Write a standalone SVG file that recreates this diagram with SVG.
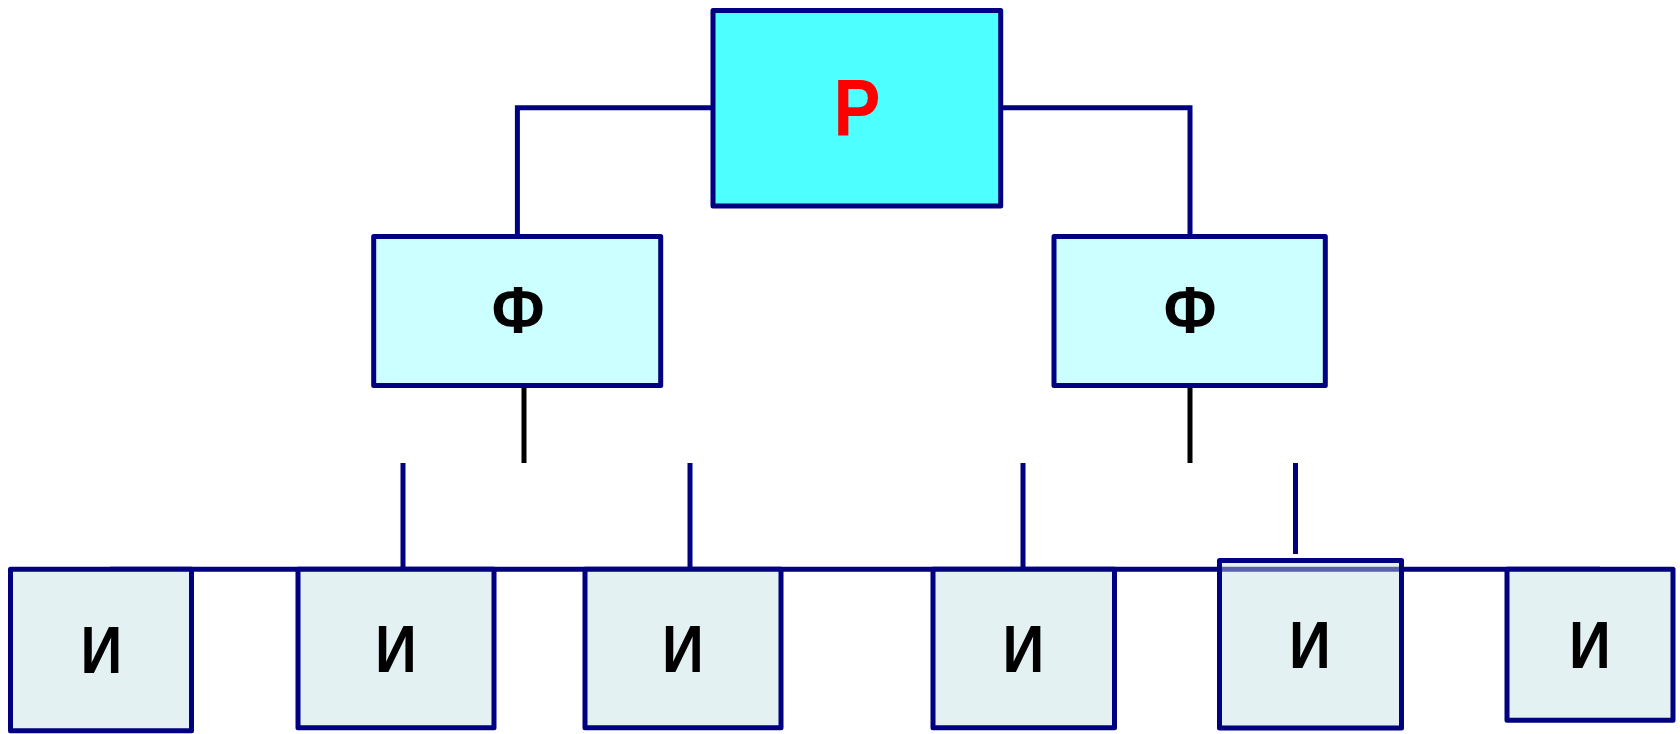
<svg xmlns="http://www.w3.org/2000/svg" width="1680" height="734" viewBox="0 0 1680 734">
<style>
.box{stroke:#000080;stroke-width:5;stroke-linejoin:round}
.root{fill:#4dffff}
.mid{fill:#ccffff}
.leaf{fill:#e3f1f2}
.lbl{font-family:"Liberation Sans",Arial,sans-serif;font-weight:bold;text-anchor:middle;fill:#000}
.i{font-size:66px}
.f{font-size:67px}
.r{font-size:79px;fill:#ff0000}
.navy{stroke:#000080;stroke-width:5;fill:none}
.blk{stroke:#000;stroke-width:5;fill:none}
</style>
<rect width="1680" height="734" fill="#fff"/>
<g id="connectors">
<polyline class="navy" points="713,107.7 517.4,107.7 517.4,236.5"/>
<polyline class="navy" points="1000.7,107.7 1190,107.7 1190,236.5"/>
<line class="blk" x1="524" y1="386" x2="524" y2="463"/>
<line class="blk" x1="1190" y1="386" x2="1190" y2="463"/>
<line class="navy" x1="403" y1="463" x2="403" y2="569"/>
<line class="navy" x1="690" y1="463" x2="690" y2="569"/>
<line class="navy" x1="1023" y1="463" x2="1023" y2="569"/>
<line class="navy" x1="1295.5" y1="463" x2="1295.5" y2="554"/>
<line class="navy" x1="110" y1="569.3" x2="1600" y2="569.3"/>
</g>
<g id="node-r">
<rect class="box root" x="713" y="10.5" width="287.7" height="195.5"/>
<text class="lbl r" transform="translate(857 135) scale(0.89 1)">Р</text>
</g>
<g id="node-f1">
<rect class="box mid" x="373.7" y="236.5" width="287" height="149"/>
<text class="lbl f" transform="translate(518 333) scale(0.93 1)">Ф</text>
</g>
<g id="node-f2">
<rect class="box mid" x="1054" y="236.5" width="271.3" height="149"/>
<text class="lbl f" transform="translate(1190 333) scale(0.93 1)">Ф</text>
</g>
<g id="node-i1">
<rect class="box leaf" x="10.5" y="569.3" width="181" height="161.5"/>
<text class="lbl i" transform="translate(101.5 673) scale(0.88 1)">И</text>
</g>
<g id="node-i2">
<rect class="box leaf" x="298" y="569.3" width="196" height="158.5"/>
<text class="lbl i" transform="translate(396 672) scale(0.88 1)">И</text>
</g>
<g id="node-i3">
<rect class="box leaf" x="585" y="569.3" width="196" height="158.5"/>
<text class="lbl i" transform="translate(683 672) scale(0.88 1)">И</text>
</g>
<g id="node-i4">
<rect class="box leaf" x="933" y="569.3" width="181.5" height="158.5"/>
<text class="lbl i" transform="translate(1023.5 672) scale(0.88 1)">И</text>
</g>
<g id="node-i5">
<rect class="box leaf" x="1219.5" y="560.5" width="182" height="167.5"/>
<line x1="1222" y1="569.3" x2="1399" y2="569.3" stroke="#000080" stroke-width="5" stroke-opacity="0.6"/>
<text class="lbl i" transform="translate(1310 667.5) scale(0.88 1)">И</text>
</g>
<g id="node-i6">
<rect class="box leaf" x="1507" y="569.3" width="166" height="151"/>
<text class="lbl i" transform="translate(1590 667.5) scale(0.88 1)">И</text>
</g>
</svg>
